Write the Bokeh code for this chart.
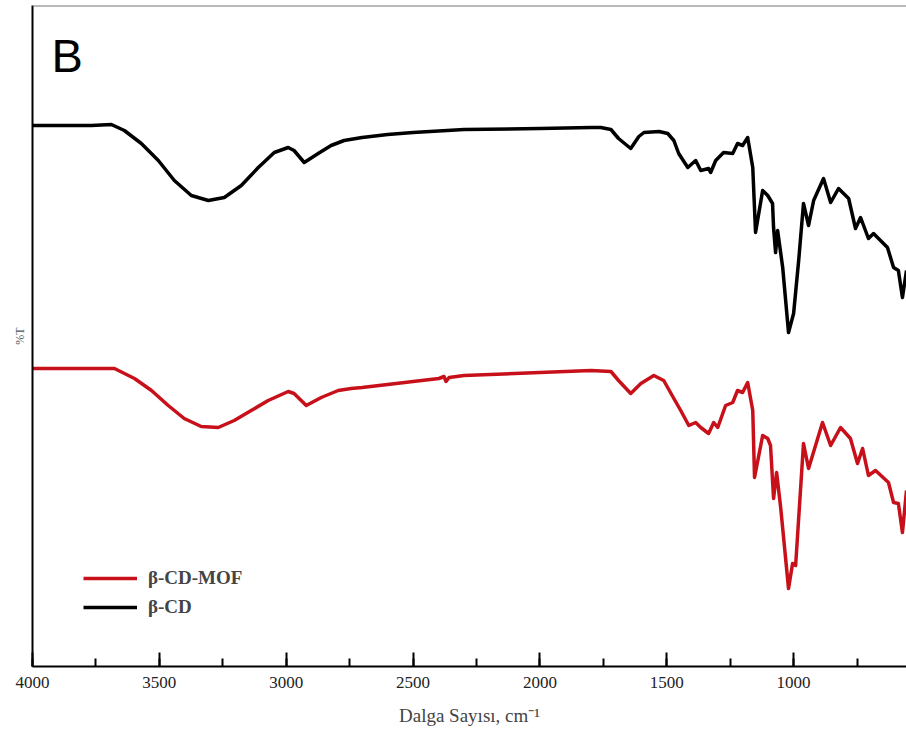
from bokeh.plotting import figure
from bokeh.models import Range1d, SingleIntervalTicker, Label, Span, Legend, LegendItem, FixedTicker
from bokeh.embed import file_html
from bokeh.resources import INLINE

# wavenumbers (cm-1) and transmittance (arbitrary units, offset spectra)
cd_wn = [4000, 3768, 3689, 3638, 3571, 3504, 3441, 3374, 3307, 3244, 3177, 3110, 3047,
         2992, 2969, 2929, 2874, 2823, 2772, 2701, 2600, 2500, 2299, 2000, 1799, 1760,
         1720, 1690, 1642, 1610, 1590, 1530, 1496,
         1472, 1453, 1417, 1386, 1366, 1335, 1327, 1307, 1276, 1240, 1221, 1201, 1181,
         1161, 1150, 1122, 1102, 1083, 1079, 1071, 1063, 1043, 1020, 1000, 980, 961, 941,
         921, 882, 854, 823, 783, 756, 736, 705, 685, 630, 606, 587, 571, 555]
cd_t = [575, 575, 576, 570, 557, 540, 520, 505, 500, 503, 515, 533, 548,
        553, 550, 538, 547, 555, 560, 563, 566, 568, 571, 572, 573, 573,
        571, 562, 552, 564, 568, 569, 567,
        560, 547, 533, 540, 530, 532, 528, 540, 548, 547, 557, 555, 563,
        533, 468, 510, 505, 497, 473, 448, 470, 433, 368, 387, 440, 497, 475,
        500, 522, 498, 512, 502, 472, 483, 462, 467, 453, 433, 430, 403, 430]

mof_wn = [4000, 3768, 3677, 3598, 3531, 3465, 3402, 3335, 3268, 3205, 3138, 3071, 2992,
          2969, 2921, 2862, 2795, 2744, 2701, 2600, 2500, 2398, 2378, 2370, 2358, 2299,
          2000, 1799, 1720, 1690, 1642, 1602,
          1551, 1512, 1472, 1445, 1413, 1386, 1366, 1335, 1315, 1299, 1268, 1240, 1221,
          1201, 1181, 1161, 1154, 1122, 1102, 1091, 1079, 1067, 1051, 1020, 1004, 992,
          961, 941, 886, 854, 815, 776, 748, 728, 705, 677, 626, 606, 587, 571, 555]
mof_t = [332, 332, 332, 322, 310, 295, 282, 274, 273, 280, 290, 300, 309,
         307, 295, 303, 310, 312, 313, 316, 319, 322, 324, 319, 323, 325,
         328, 330, 329, 320, 307, 317,
         325, 320, 302, 290, 275, 278, 273, 267, 278, 273, 295, 298, 310,
         308, 318, 290, 223, 265, 262, 255, 202, 228, 193, 112, 137, 135,
         257, 232, 278, 255, 273, 262, 237, 252, 225, 230, 218, 198, 197, 168, 210]

x_start, x_end = 4000, 555
y_start, y_end = 34, 695

p = figure(width=906, height=738, output_backend="svg", toolbar_location=None,
           x_range=Range1d(x_start, x_end), y_range=Range1d(y_start, y_end),
           min_border_left=32, min_border_right=0, min_border_top=5, min_border_bottom=72)
p.outline_line_color = None
p.background_fill_color = "white"
p.xgrid.visible = False
p.ygrid.visible = False

r_mof = p.line(mof_wn, mof_t, line_color="#c8101a", line_width=3.5, line_join="round")
r_cd = p.line(cd_wn, cd_t, line_color="black", line_width=3.5, line_join="round")

xa = p.xaxis[0]
xa.ticker = SingleIntervalTicker(interval=500, num_minor_ticks=2)
xa.major_tick_in = 14
xa.major_tick_out = 0
xa.minor_tick_in = 8
xa.minor_tick_out = 0
xa.axis_line_width = 2
xa.major_tick_line_width = 2
xa.minor_tick_line_width = 2
xa.axis_label = "Dalga Sayısı, cm⁻¹"
xa.axis_label_text_font = "Liberation Serif"
xa.axis_label_text_font_style = "normal"
xa.axis_label_text_font_size = "19px"
xa.axis_label_standoff = 14
xa.major_label_text_font = "Times New Roman"
xa.major_label_text_font_style = "normal"
xa.major_label_text_font_size = "17px"
xa.major_label_text_color = "#222222"
xa.major_label_standoff = 10

ya = p.yaxis[0]
ya.ticker = FixedTicker(ticks=[])
ya.major_tick_in = 0
ya.major_tick_out = 0
ya.minor_tick_in = 0
ya.minor_tick_out = 0
ya.axis_line_width = 2
ya.axis_label = "%T"
ya.axis_label_text_font = "Liberation Serif"
ya.axis_label_text_font_style = "normal"
ya.axis_label_text_font_size = "12px"
ya.axis_label_text_color = "#555555"
ya.axis_label_standoff = 6

p.add_layout(Span(location=y_end, dimension="width", line_color="#777777", line_width=2))

p.add_layout(Label(x=19, y=611, x_units="screen", y_units="screen", text="B",
                   text_font="Liberation Sans", text_font_size="47px",
                   text_baseline="alphabetic", text_color="black"))

legend = Legend(items=[LegendItem(label="β-CD-MOF", renderers=[r_mof]),
                       LegendItem(label="β-CD", renderers=[r_cd])],
                location=(51, 48), border_line_color=None, background_fill_alpha=0,
                padding=0, margin=0, spacing=7, glyph_width=54, glyph_height=22,
                label_height=22, label_standoff=11,
                label_text_font="Liberation Serif", label_text_font_style="bold",
                label_text_font_size="19px")
p.add_layout(legend)

open("out.html", "w").write(file_html(p, INLINE))
